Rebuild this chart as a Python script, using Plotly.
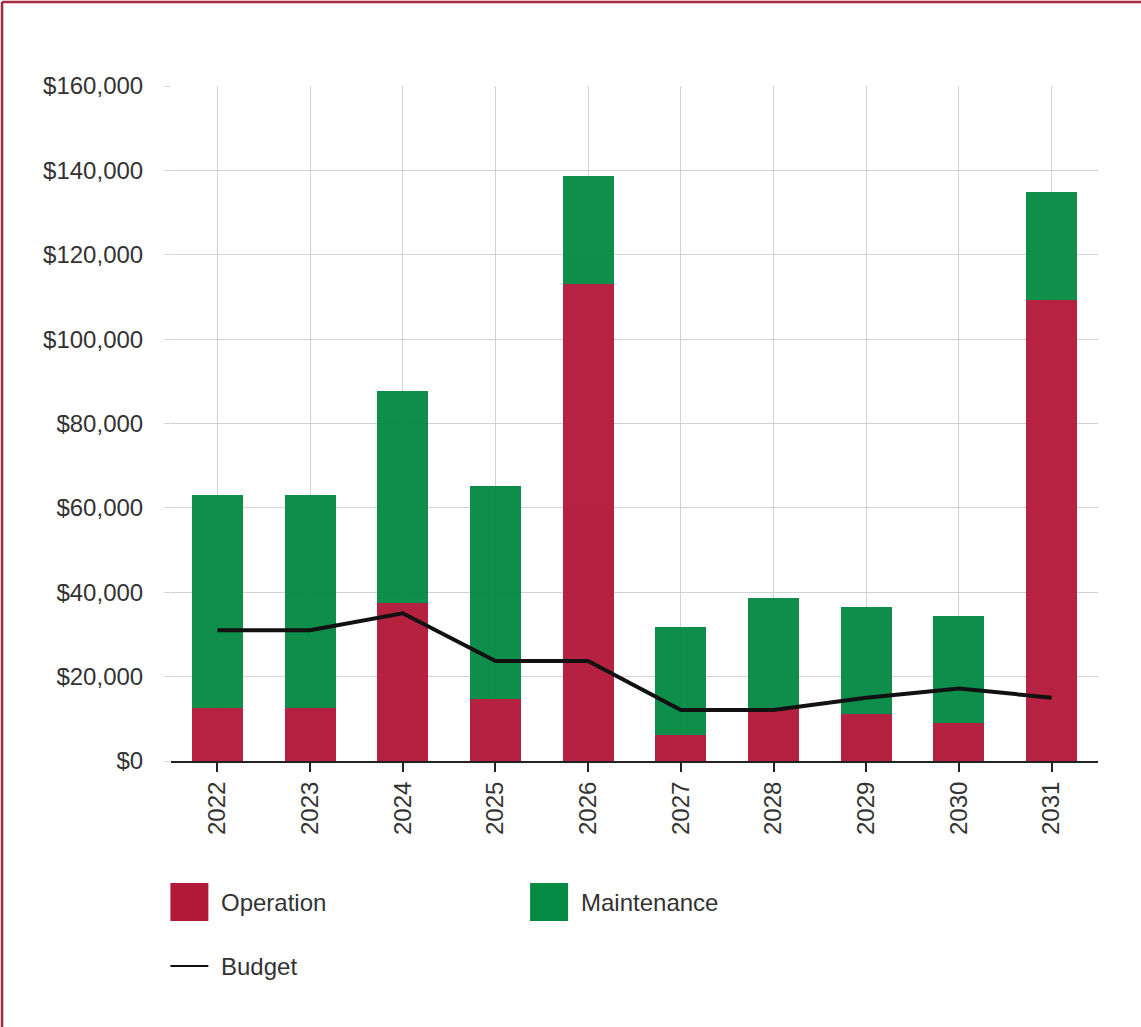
import plotly.graph_objects as go

# Annual costs by year
years = ["2022", "2023", "2024", "2025", "2026", "2027", "2028", "2029", "2030", "2031"]
operation = [12600, 12600, 37500, 14800, 113000, 6200, 12300, 11100, 8900, 109300]
totals = [63000, 63000, 87800, 65200, 138700, 31800, 38600, 36500, 34300, 134800]
maintenance = [t - o for t, o in zip(totals, operation)]
budget = [31000, 31000, 35000, 23700, 23700, 12100, 12100, 15000, 17200, 15000]

y_ticks = [0, 20000, 40000, 60000, 80000, 100000, 120000, 140000, 160000]
y_tick_labels = ["$0", "$20,000", "$40,000", "$60,000", "$80,000",
                 "$100,000", "$120,000", "$140,000", "$160,000"]

RED = "#B31A3A"
GREEN = "#058A43"
GRID = "#d2d2d2"
TEXT = "#333333"
FONT = "Liberation Sans, Arial, sans-serif"
FS = 24

W, H = 1141, 1027
L, R, T, B = 170.6, 42.6, 86, 266
PW, PH = W - L - R, H - T - B


def px(x):
    return (x - L) / PW


def py(y):
    return (H - B - y) / PH


fig = go.Figure()
fig.add_trace(go.Bar(x=years, y=operation, name="Operation", marker_color=RED,
                     marker_line_width=0, width=0.55, opacity=0.96))
fig.add_trace(go.Bar(x=years, y=maintenance, name="Maintenance", marker_color=GREEN,
                     marker_line_width=0, width=0.55, opacity=0.96))
fig.add_trace(go.Scatter(x=years, y=budget, name="Budget", mode="lines",
                         line=dict(color="#111111", width=4)))

shapes = [
    # frame lines along the top and left edges
    dict(type="line", xref="paper", yref="paper", x0=px(1.5), x1=px(W + 5),
         y0=py(2), y1=py(2), line=dict(color="#A8283E", width=2.5)),
    dict(type="line", xref="paper", yref="paper", x0=px(1.5), x1=px(1.5),
         y0=py(2), y1=py(H + 5), line=dict(color="#A8283E", width=2.5)),
    # legend swatches
    dict(type="rect", xref="paper", yref="paper", x0=px(170), x1=px(208),
         y0=py(883), y1=py(921), fillcolor=RED, line_width=0),
    dict(type="rect", xref="paper", yref="paper", x0=px(530), x1=px(568),
         y0=py(883), y1=py(921), fillcolor=GREEN, line_width=0),
    dict(type="line", xref="paper", yref="paper", x0=px(170), x1=px(208),
         y0=py(966), y1=py(966), line=dict(color="#111111", width=2)),
]

annotations = [
    dict(text="Operation", x=px(219), y=py(902)),
    dict(text="Maintenance", x=px(579), y=py(902)),
    dict(text="Budget", x=px(219), y=py(966)),
]
annotations = [dict(a, xref="paper", yref="paper", xanchor="left", yanchor="middle",
                    showarrow=False, font=dict(family=FONT, size=FS, color=TEXT))
               for a in annotations]

fig.update_layout(
    width=W, height=H,
    margin=dict(l=L, r=R, t=T, b=B, pad=0),
    barmode="stack",
    showlegend=False,
    plot_bgcolor="white",
    paper_bgcolor="white",
    font=dict(family=FONT, size=FS, color=TEXT),
    shapes=shapes,
    annotations=annotations,
    xaxis=dict(
        type="category",
        tickangle=-90,
        showgrid=True, gridcolor=GRID, gridwidth=1,
        ticks="outside", ticklen=9, tickcolor="#222222", tickwidth=2,
        showline=True, linecolor="#222222", linewidth=2,
        zeroline=False,
    ),
    yaxis=dict(
        range=[0, 160000],
        tickvals=y_ticks,
        ticktext=y_tick_labels,
        showgrid=True, gridcolor=GRID, gridwidth=1,
        ticks="outside", ticklen=6, tickcolor=GRID,
        ticklabelstandoff=16,
        showline=False, zeroline=False,
    ),
)

fig.write_html("out.html")
